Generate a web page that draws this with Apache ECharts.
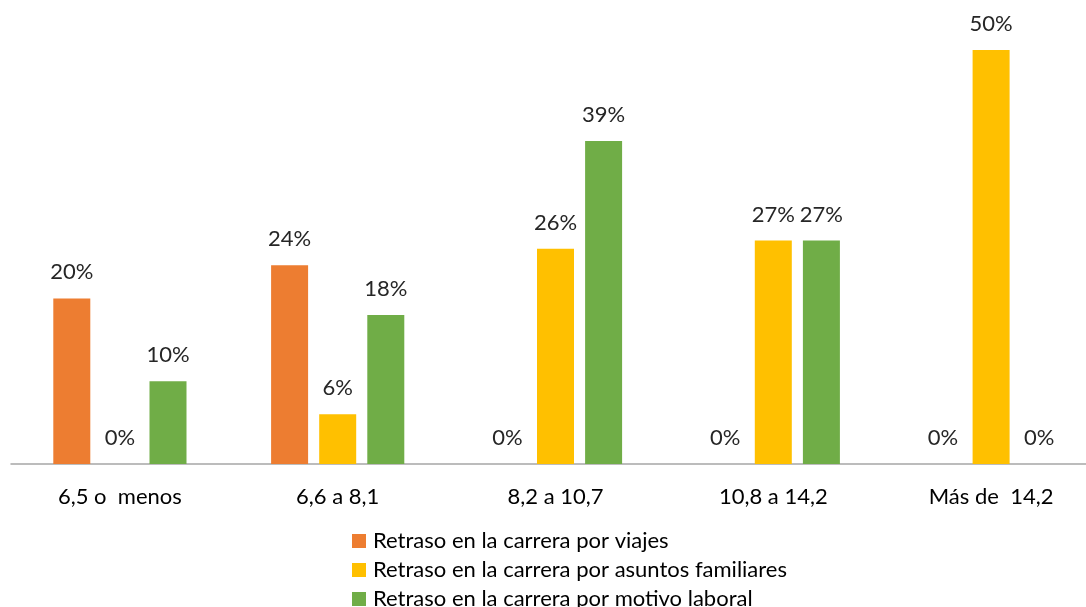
<!DOCTYPE html>
<html>
<head>
<meta charset="utf-8">
<script src="https://cdn.jsdelivr.net/npm/echarts@6/dist/echarts.min.js"></script>
<style>
html,body{margin:0;padding:0;background:#fff;overflow:hidden;}
#main{width:1100px;height:640px;}
</style>
</head>
<body>
<div id="main"></div>
<script>
// categorías (promedio) y porcentajes por motivo de retraso
var categorias = ['6,5 o  menos', '6,6 a 8,1', '8,2 a 10,7', '10,8 a 14,2', 'Más de  14,2'];
var viajes = [20, 24, 0, 0, 0];
var familiares = [0, 6, 26, 27, 50];
var laboral = [10, 18, 39, 27, 0];
var nombres = ['Retraso en la carrera por viajes', 'Retraso en la carrera por asuntos familiares', 'Retraso en la carrera por motivo laboral'];
var colores = ['#ED7D31', '#FFC000', '#70AD47'];

var fuente = 'Lato';
// el lienzo es algo más grande que la ventana: el eje sigue más allá del borde derecho
var myChart = echarts.init(document.getElementById('main'));

function serie(i, datos) {
    return {
        name: nombres[i],
        type: 'bar',
        data: datos,
        barWidth: 37,
        barGap: '30%',
        itemStyle: { color: colores[i] },
        label: {
            show: true,
            position: 'top',
            distance: 15,
            formatter: '{c}%',
            color: '#262626',
            fontSize: 22,
            fontFamily: fuente
        }
    };
}

var option = {
    animation: false,
    grid: { left: 11, right: 0, top: 50, bottom: 176 },
    legend: {
        orient: 'vertical',
        left: 352,
        top: 530,
        padding: 0,
        itemWidth: 14,
        itemHeight: 14,
        itemGap: 7,
        icon: 'rect',
        textStyle: { fontSize: 22, lineHeight: 20, color: '#000', fontFamily: fuente, padding: [0, 0, 0, 2] },
        data: nombres
    },
    xAxis: {
        type: 'category',
        data: categorias,
        axisLine: { lineStyle: { color: '#A6A6A6', width: 1.5 } },
        axisTick: { show: false },
        axisLabel: { color: '#000', fontSize: 22, fontFamily: fuente, margin: 22 }
    },
    yAxis: {
        type: 'value',
        min: 0,
        max: 50,
        show: false
    },
    series: [serie(0, viajes), serie(1, familiares), serie(2, laboral)]
};
myChart.setOption(option);
</script>
</body>
</html>
